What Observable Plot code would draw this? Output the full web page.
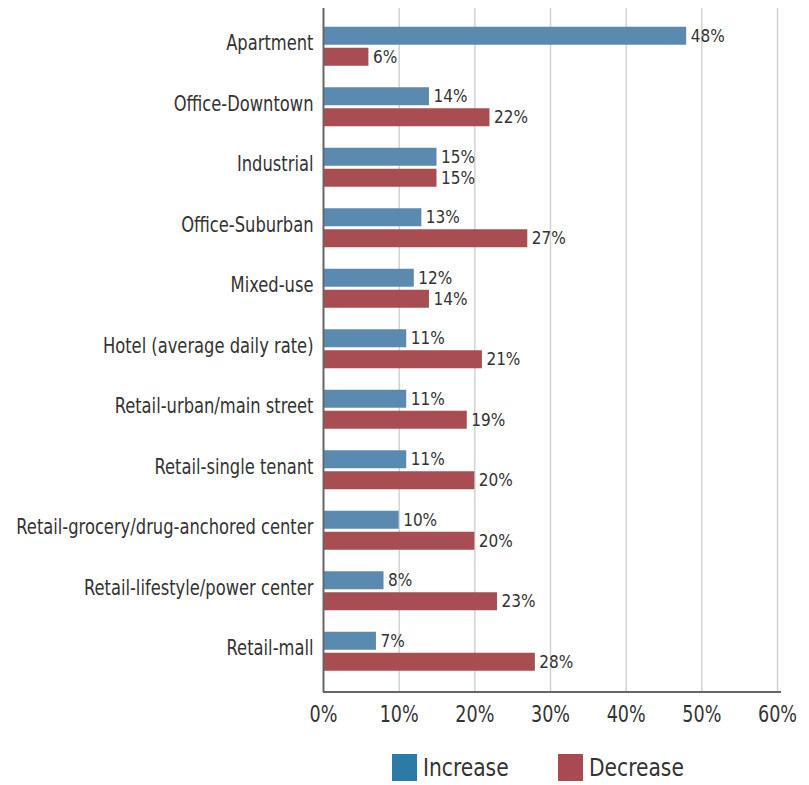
<!DOCTYPE html>
<html>
<head>
<meta charset="utf-8">
<script src="https://cdn.jsdelivr.net/npm/d3@7"></script>
<script src="https://cdn.jsdelivr.net/npm/@observablehq/plot@0.6"></script>
<style>
  body { margin: 0; background: #fff; }
  #chart { width: 809px; }
  .legend { display: flex; justify-content: flex-start; margin-left: 392px; margin-top: 15px;
    font-family: "DejaVu Sans Condensed", sans-serif; font-size: 25px; color: #333; }
  .legend .item { display: flex; align-items: center; margin-right: 40px; }
  .legend .sw { width: 25px; height: 27px; margin-right: 6px; }
  .legend span { display: inline-block; transform: scaleX(0.9); transform-origin: left center; }
</style>
</head>
<body>
<div id="chart"></div>
<script>
const categories = ["Apartment","Office-Downtown","Industrial","Office-Suburban","Mixed-use","Hotel (average daily rate)","Retail-urban/main street","Retail-single tenant","Retail-grocery/drug-anchored center","Retail-lifestyle/power center","Retail-mall"];
const increase = [48,14,15,13,12,11,11,11,10,8,7];
const decrease = [6,22,15,27,14,21,19,20,20,23,28];
const xTicks = [0,10,20,30,40,50,60];
const seriesNames = ["Increase","Decrease"];
const barColors = ["#5b8ab1","#a84d51"];
const legendColors = ["#2c7ba7","#a84a50"];

const incData = categories.map((c,i) => ({category: c, value: increase[i]}));
const decData = categories.map((c,i) => ({category: c, value: decrease[i]}));

const font = '"DejaVu Sans Condensed", sans-serif';
const H = 738, MB = 46, MT = 8;

const plot = Plot.plot({
  width: 809,
  height: H,
  marginLeft: 323,
  marginRight: 32,
  marginTop: MT,
  marginBottom: MB,
  style: {fontFamily: font, color: "#333", background: "#fff"},
  x: {domain: [0, 60], ticks: xTicks, tickFormat: d => d + "%", label: null},
  y: {domain: categories, padding: 0, round: false, range: [16.25, 681.75], label: null},
  marks: [
    Plot.ruleX(xTicks.slice(1), {stroke: "#d2d2d2", strokeWidth: 1.5}),
    Plot.barX(incData, {y: "category", x: "value", fill: barColors[0], insetTop: 10.5, insetBottom: 32}),
    Plot.barX(decData, {y: "category", x: "value", fill: barColors[1], insetTop: 31.5, insetBottom: 11}),
    Plot.text(incData, {y: "category", x: "value", text: d => d.value + "%", dx: 4, dy: -10.5, textAnchor: "start", fontSize: 17, fill: "#333"}),
    Plot.text(decData, {y: "category", x: "value", text: d => d.value + "%", dx: 4, dy: 10.5, textAnchor: "start", fontSize: 17, fill: "#333"}),
    Plot.ruleX([0], {stroke: "#666", strokeWidth: 2}),
    Plot.axisX({ticks: xTicks, tickFormat: d => d + "%", tickSize: 0, tickPadding: 13, fontSize: 23, label: null}),
    Plot.axisY({tickSize: 0, tickPadding: 10, fontSize: 22, label: null, dy: -4})
  ]
});

const svg = d3.select(plot);
// condense label glyphs horizontally (narrow typeface look)
function squeeze(sel, s) {
  sel.each(function() {
    const t = d3.select(this);
    const tr = t.attr("transform") || "";
    t.attr("transform", tr + ` scale(${s},1)`);
  });
}
squeeze(svg.selectAll('[aria-label="y-axis tick label"] text'), 0.825);
squeeze(svg.selectAll('[aria-label="x-axis tick label"] text'), 0.85);

// bottom axis line
const xs = plot.scale("x");
svg.append("line")
  .attr("x1", xs.range[0]).attr("x2", xs.range[1] + 4)
  .attr("y1", H - MB).attr("y2", H - MB)
  .attr("stroke", "#666").attr("stroke-width", 2);

document.getElementById("chart").appendChild(plot);

const legend = document.createElement("div");
legend.className = "legend";
seriesNames.forEach((s, i) => {
  const item = document.createElement("div");
  item.className = "item";
  const sw = document.createElement("div");
  sw.className = "sw";
  sw.style.background = legendColors[i];
  const t = document.createElement("span");
  t.textContent = s;
  item.appendChild(sw); item.appendChild(t);
  legend.appendChild(item);
});
document.getElementById("chart").appendChild(legend);
</script>
</body>
</html>
